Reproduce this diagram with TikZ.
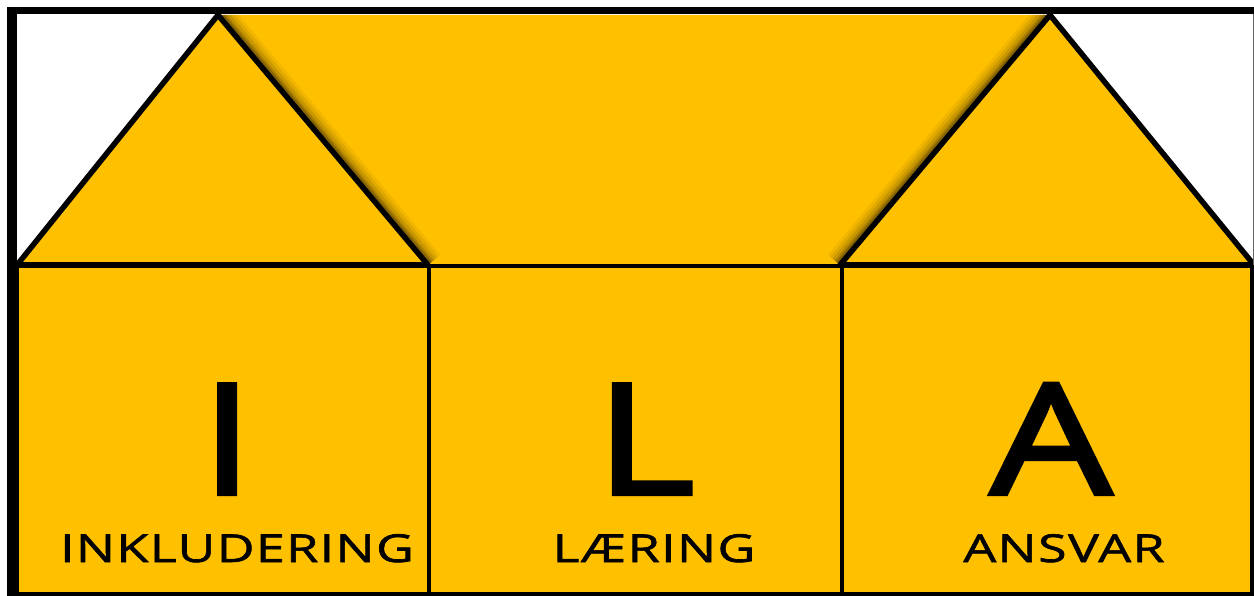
\documentclass[tikz,border=0pt]{standalone}
\usepackage{fontspec}
\setmainfont{Open Sans}
\newfontfamily\bigfont{Open Sans}[FakeStretch=1.25,FakeBold=2.6]
\newfontfamily\labfont{Open Sans}[FakeStretch=1.35,LetterSpace=3.5,FakeBold=1.6]
\definecolor{gold}{HTML}{FFC000}
\begin{document}
\begin{tikzpicture}[x=1pt,y=-1pt,
  edge/.style={line width=5.5pt,line join=round},
  part/.style={fill=gold,draw=black,line width=4pt},
  big/.style={inner sep=0pt,anchor=base,font=\bigfont\fontsize{154}{154}\selectfont},
  word/.style={inner sep=0pt,anchor=base,font=\labfont\fontsize{38.5}{38.5}\selectfont}]
\useasboundingbox (0,0) rectangle (1254,596);
\fill[white] (0,0) rectangle (1254,596);
% roof coordinates
\coordinate (lt) at (218,15);
\coordinate (ll) at (17,265);
\coordinate (lr) at (428,265);
\coordinate (rt) at (1050,15);
\coordinate (rl) at (840,265);
\coordinate (rr) at (1254,265);
% central roof
\fill[gold] (lt) -- (rt) -- (rl) -- (lr) -- cycle;
\begin{scope}
  \clip (lt) -- (rt) -- (rl) -- (lr) -- cycle;
  \foreach \w/\o in {32/0.05,26/0.07,20/0.1,14/0.15,10/0.22}{
    \draw[line width=\w pt,black,opacity=\o] (lt) -- (lr);
    \draw[line width=\w pt,black,opacity=\o] (rt) -- (rl);
  }
\end{scope}
% gables
\filldraw[fill=gold,edge] (ll) -- (lt) -- (lr) -- cycle;
\filldraw[fill=gold,edge] (rl) -- (rt) -- (rr) -- cycle;
% wall boxes
\draw[part] (17,266) rectangle (429,594);
\draw[part] (429,266) rectangle (842,594);
\draw[part] (842,266) rectangle (1252,594);
% frame
\fill[black] (7,7) rectangle (17,596);
\fill[black] (7,7) rectangle (1254,14);
\fill[black] (7,592) rectangle (1254,596);
\draw[black!60,line width=1pt] (1253.5,14) -- (1253.5,265);
% letters
\node[big] (I) at (227,494) {I};
\node[big] (L) at (645,494) {L};
\node[big] (A) at (1051,494) {A};
\node[word] (w1) at (237,562) {INKLUDERING};
\node[word] (w2) at (654,562) {LÆRING};
\node[word] (w3) at (1064,562) {ANSVAR};
\end{tikzpicture}
\end{document}
